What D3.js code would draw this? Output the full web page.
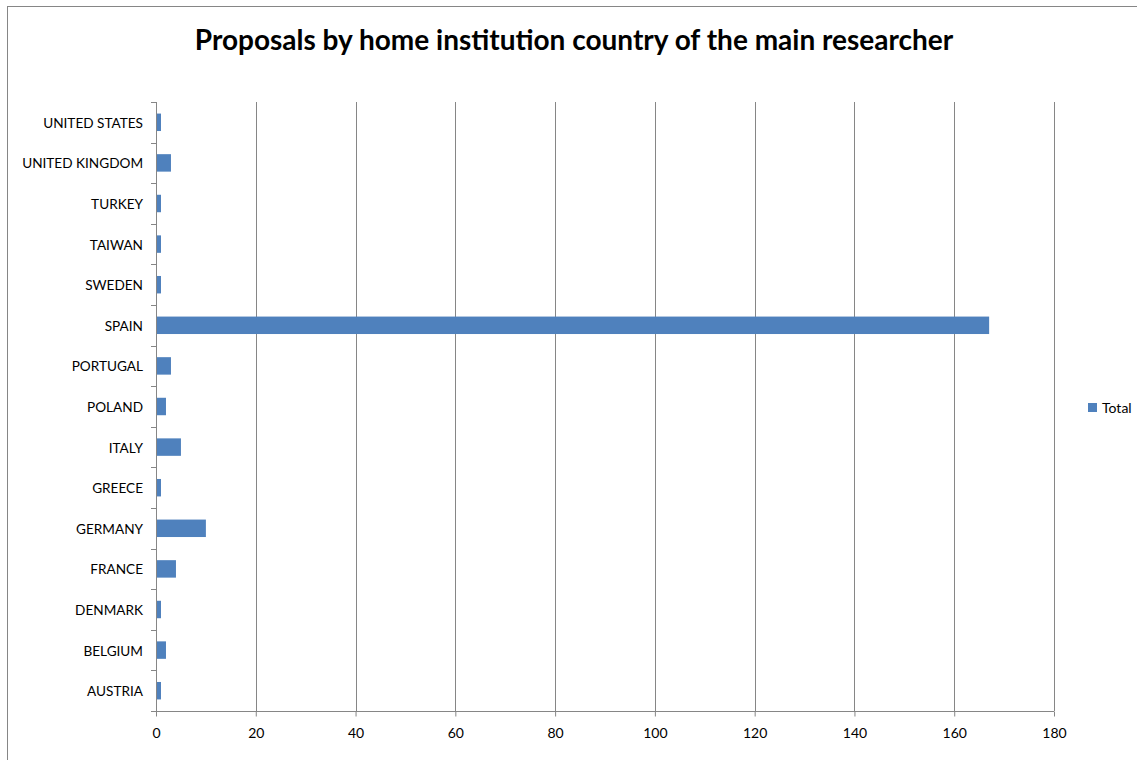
<!DOCTYPE html>
<html><head><meta charset="utf-8">
<script src="https://cdn.jsdelivr.net/npm/d3@7"></script>
<style>body{margin:0;background:#fff;} svg{display:block;}</style>
</head><body>
<svg id="c" width="1137" height="760"></svg>
<script>
const categories = ["UNITED STATES","UNITED KINGDOM","TURKEY","TAIWAN","SWEDEN","SPAIN","PORTUGAL","POLAND","ITALY","GREECE","GERMANY","FRANCE","DENMARK","BELGIUM","AUSTRIA"];
const totals = [1,3,1,1,1,167,3,2,5,1,10,4,1,2,1];
const xTicks = [0,20,40,60,80,100,120,140,160,180];
const seriesName = "Total";
const title = "Proposals by home institution country of the main researcher";

const font = "Lato, 'Open Sans', sans-serif";
const svg = d3.select("#c");
svg.append("rect").attr("x",7.5).attr("y",6.5).attr("width",1140).attr("height",760).attr("fill","#fff").attr("stroke","#868686").attr("stroke-width",1);

const m = {left:156, right:1054, top:102, bottom:711};
const x = d3.scaleLinear().domain([0,180]).range([m.left, m.right]);
const y = d3.scaleBand().domain(categories).range([m.top, m.bottom]).paddingInner(0.57).paddingOuter(0.285);
const band = d3.scaleBand().domain(categories).range([m.top, m.bottom]);

svg.append("g").selectAll("line").data(xTicks.filter(d=>d>0)).join("line")
  .attr("x1",d=>Math.round(x(d))+0.5).attr("x2",d=>Math.round(x(d))+0.5)
  .attr("y1",m.top).attr("y2",m.bottom)
  .attr("stroke","#868686").attr("stroke-width",1);

svg.append("g").selectAll("rect").data(categories).join("rect")
  .attr("x",x(0)).attr("y",(d)=>y(d))
  .attr("width",(d,i)=>x(totals[i])-x(0)).attr("height",y.bandwidth())
  .attr("fill","#4F81BD");

const xAxis = d3.axisBottom(x).tickValues(xTicks).tickSize(5).tickPadding(12);
const gx = svg.append("g").attr("transform",`translate(0,${m.bottom+0.5})`).call(xAxis);
gx.select(".domain").attr("stroke","#868686").attr("d",`M${m.left},0H${m.right}`);
gx.selectAll(".tick line").attr("stroke","#868686");
gx.selectAll("text").attr("font-family",font).attr("font-size",14).attr("fill","#000");

const gy = svg.append("g");
gy.append("line").attr("x1",m.left+0.5).attr("x2",m.left+0.5).attr("y1",m.top).attr("y2",m.bottom).attr("stroke","#868686");
const bounds = categories.map(c=>band(c)).concat([m.bottom]);
gy.selectAll("line.t").data(bounds).join("line").attr("class","t")
  .attr("x1",m.left-5).attr("x2",m.left).attr("y1",d=>Math.round(d)+0.5).attr("y2",d=>Math.round(d)+0.5)
  .attr("stroke","#868686");
gy.selectAll("text").data(categories).join("text")
  .attr("x",143).attr("y",d=>band(d)+band.bandwidth()/2).attr("dy","0.4em")
  .attr("text-anchor","end").attr("font-family",font).attr("font-size",13.6).attr("fill","#000")
  .text(d=>d);

svg.append("text").attr("x",574).attr("y",50).attr("text-anchor","middle")
  .attr("font-family",font).attr("font-weight","bold").attr("font-size",28).attr("fill","#000")
  .text(title);

const lg = svg.append("g");
lg.append("rect").attr("x",1088).attr("y",403).attr("width",9).attr("height",9).attr("fill","#4F81BD");
lg.append("text").attr("x",1102).attr("y",413).attr("font-family",font).attr("font-size",14).attr("fill","#000").text(seriesName);
</script>
</body></html>
